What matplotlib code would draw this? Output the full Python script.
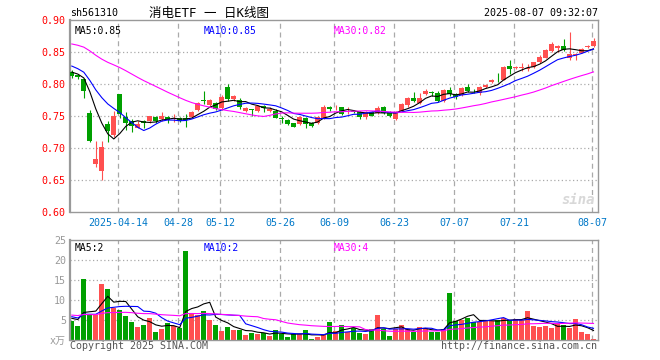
import numpy as np
import matplotlib
matplotlib.use('Agg')
from matplotlib import pyplot as plt

# daily candles, 2025-04-01 .. 2025-08-07 (88 trading days)
opens = [0.819, 0.815, 0.808, 0.755, 0.676, 0.664, 0.738, 0.721, 0.785, 0.749,
         0.743, 0.732, 0.743, 0.742, 0.749, 0.745, 0.749, 0.745, 0.748, 0.748,
         0.749, 0.760, 0.775, 0.768, 0.771, 0.763, 0.796, 0.777, 0.775, 0.759,
         0.761, 0.759, 0.766, 0.759, 0.758, 0.747, 0.744, 0.739, 0.7375, 0.747,
         0.739, 0.7395, 0.746, 0.765, 0.764, 0.764, 0.758, 0.758, 0.757, 0.7485,
         0.756, 0.755, 0.765, 0.757, 0.746, 0.758, 0.767, 0.779, 0.770, 0.785,
         0.788, 0.787, 0.7735, 0.791, 0.785, 0.783, 0.795, 0.790, 0.786, 0.795,
         0.803, 0.807, 0.807, 0.8286, 0.825, 0.826, 0.8245, 0.8276, 0.8354, 0.8417,
         0.852, 0.856, 0.860, 0.8406, 0.846, 0.8484, 0.859, 0.860]
highs = [0.822, 0.816, 0.810, 0.760, 0.711, 0.711, 0.743, 0.758, 0.785, 0.757,
         0.746, 0.743, 0.744, 0.750, 0.750, 0.757, 0.751, 0.754, 0.749, 0.753,
         0.758, 0.773, 0.789, 0.777, 0.773, 0.783, 0.801, 0.783, 0.778, 0.765,
         0.762, 0.768, 0.767, 0.765, 0.762, 0.750, 0.745, 0.740, 0.751, 0.749,
         0.741, 0.750, 0.768, 0.766, 0.768, 0.765, 0.764, 0.760, 0.759, 0.759,
         0.758, 0.766, 0.766, 0.758, 0.758, 0.770, 0.780, 0.7885, 0.786, 0.793,
         0.790, 0.789, 0.793, 0.796, 0.786, 0.796, 0.800, 0.793, 0.798, 0.801,
         0.809, 0.817, 0.828, 0.838, 0.829, 0.833, 0.831, 0.835, 0.846, 0.855,
         0.866, 0.862, 0.871, 0.882, 0.849, 0.856, 0.862, 0.872]
lows = [0.810, 0.809, 0.778, 0.710, 0.671, 0.650, 0.710, 0.718, 0.747, 0.729,
        0.726, 0.731, 0.732, 0.739, 0.739, 0.743, 0.740, 0.741, 0.741, 0.734,
        0.748, 0.759, 0.769, 0.766, 0.760, 0.760, 0.774, 0.774, 0.762, 0.757,
        0.751, 0.756, 0.756, 0.757, 0.747, 0.740, 0.737, 0.733, 0.736, 0.731,
        0.734, 0.738, 0.745, 0.759, 0.760, 0.752, 0.753, 0.755, 0.745, 0.745,
        0.750, 0.754, 0.754, 0.749, 0.744, 0.757, 0.765, 0.773, 0.769, 0.784,
        0.781, 0.773, 0.772, 0.781, 0.777, 0.782, 0.788, 0.786, 0.784, 0.794,
        0.802, 0.804, 0.806, 0.816, 0.824, 0.821, 0.8215, 0.825, 0.834, 0.841,
        0.851, 0.851, 0.852, 0.838, 0.838, 0.8484, 0.8565, 0.859]
closes = [0.813, 0.811, 0.790, 0.711, 0.683, 0.702, 0.727, 0.750, 0.753, 0.739,
          0.735, 0.738, 0.740, 0.750, 0.743, 0.750, 0.744, 0.748, 0.743, 0.744,
          0.757, 0.771, 0.774, 0.775, 0.762, 0.780, 0.777, 0.781, 0.764, 0.763,
          0.760, 0.766, 0.763, 0.762, 0.748, 0.746, 0.738, 0.734, 0.7495, 0.738,
          0.7355, 0.7485, 0.765, 0.761, 0.765, 0.753, 0.759, 0.757, 0.7495, 0.757,
          0.751, 0.7635, 0.755, 0.751, 0.756, 0.7685, 0.779, 0.774, 0.779, 0.790,
          0.787, 0.7745, 0.791, 0.785, 0.780, 0.794, 0.790, 0.789, 0.795, 0.799,
          0.807, 0.806, 0.8266, 0.824, 0.8276, 0.827, 0.825, 0.8344, 0.843, 0.8536,
          0.863, 0.860, 0.8536, 0.847, 0.847, 0.8547, 0.860, 0.868]
# volume in units of 10k lots
volumes = [4.8, 3.6, 15.3, 6.5, 6.3, 14.1, 12.8, 8.0, 7.5, 6.1,
           4.5, 3.3, 3.8, 5.6, 2.1, 2.8, 4.3, 3.5, 3.1, 22.3,
           6.5, 6.3, 7.3, 5.1, 3.8, 2.3, 3.3, 2.6, 2.7, 1.3,
           1.9, 1.6, 1.9, 1.1, 2.6, 1.5, 0.9, 1.5, 1.5, 2.6,
           0.3, 0.9, 1.25, 4.6, 2.3, 3.8, 2.2, 3.2, 1.9, 1.6,
           2.75, 6.3, 2.75, 1.2, 2.75, 3.8, 2.75, 2.0, 3.3, 3.0,
           2.2, 2.0, 2.75, 11.9, 4.8, 5.1, 5.5, 4.7, 4.7, 4.8,
           4.8, 5.0, 5.5, 5.1, 5.3, 5.0, 7.3, 3.7, 3.3, 3.5,
           3.0, 4.0, 3.8, 3.0, 5.3, 2.1, 1.6, 0.3]

# sessions before the window, only used to seed the moving averages
prior_close = [0.872, 0.878, 0.885, 0.890, 0.884, 0.876, 0.870, 0.878, 0.886, 0.893,
               0.896, 0.890, 0.884, 0.880, 0.886, 0.882, 0.876, 0.872, 0.866, 0.862,
               0.852, 0.845, 0.838, 0.832, 0.823, 0.826, 0.820, 0.818, 0.818]
prior_volume = [7.2, 6.8, 8.1, 6.0, 5.4, 6.6, 7.5, 6.2, 5.8, 6.9,
                7.8, 6.4, 5.6, 6.1, 6.8, 7.0, 5.9, 6.3, 5.7, 5.9,
                6.8, 5.9, 6.6, 6.4, 5.8, 5.2, 6.4, 5.6, 5.5]

tick_idx = [8, 18, 25, 35, 44, 54, 64, 74, 87]
tick_labels = ['2025-04-14', '04-28', '05-12', '05-26', '06-09', '06-23', '07-07', '07-21', '08-07']

price_ticks = [0.60, 0.65, 0.70, 0.75, 0.80, 0.85, 0.90]
vol_ticks = [5, 10, 15, 20, 25]

RED = '#ff5050'
GREEN = '#00a000'
MA_COLORS = ['black', '#0000ff', '#ff00ff']
GRID = '#aaaaaa'
FRAME = '#999999'
MONO = ['DejaVu Sans Mono', 'Noto Sans CJK SC']

plt.rcParams['font.family'] = MONO

n = len(closes)
x = np.arange(n)
o = np.array(opens)
c = np.array(closes)
h = np.array(highs)
l = np.array(lows)
v = np.array(volumes)
up = c >= o
colors = np.where(up, RED, GREEN)


def moving_average(prior, values, window):
    full = np.array(prior + values)
    return np.convolve(full, np.ones(window) / window, mode='valid')[-len(values):]


fig = plt.figure(figsize=(6.6, 3.6), dpi=100)
ax = fig.add_axes([70 / 660, 1 - 212.3 / 360, 528 / 660, 192 / 360])
axv = fig.add_axes([70 / 660, 1 - 340.3 / 360, 528 / 660, 100 / 360])

xlim = (-0.3, n - 1 + 0.75)
grid_x = [i - 0.25 for i in tick_idx]

for a in (ax, axv):
    a.set_xlim(*xlim)
    for s in a.spines.values():
        s.set_color(FRAME)
        s.set_linewidth(1.0)
    a.spines['left'].set_linewidth(1.6)
    for gx in grid_x:
        a.axvline(gx, color=GRID, lw=0.9, ls=(0, (4, 3)), zorder=0)
    a.tick_params(length=0)

# price panel
for yv in price_ticks[1:-1]:
    ax.axhline(yv, color=GRID, lw=0.9, ls=(0, (1, 2)), zorder=0)
ax.vlines(x, l, h, colors=colors, lw=0.8, zorder=2)
body = np.maximum(np.abs(c - o), 0.0008)
ax.bar(x, body, bottom=np.minimum(o, c), width=0.78, color=colors, linewidth=0, zorder=3)
for w, col in zip([5, 10, 30], MA_COLORS):
    ax.plot(x, moving_average(prior_close, closes, w), color=col, lw=0.8, zorder=4)
ax.set_ylim(0.60, 0.90)
ax.set_yticks(price_ticks)
ax.set_yticklabels([f'{t:.2f}' for t in price_ticks], color='red', fontsize=7.2)
ax.tick_params(axis='y', pad=3)
ax.set_xticks(grid_x)
ax.set_xticklabels(tick_labels, color='#0078c8', fontsize=7.2)
ax.tick_params(axis='x', pad=4)

ax.text(0.008, 0.97, 'MA5:0.85', transform=ax.transAxes, color='black', fontsize=7, va='top')
ax.text(0.254, 0.97, 'MA10:0.85', transform=ax.transAxes, color='#0000ff', fontsize=7, va='top')
ax.text(0.5, 0.97, 'MA30:0.82', transform=ax.transAxes, color='#ff00ff', fontsize=7, va='top')
ax.text(0.995, 0.03, 'sina', transform=ax.transAxes, color='#d8d8d8', fontsize=10,
        fontweight='bold', style='italic', ha='right', va='bottom', zorder=1)

# volume panel
for yv in vol_ticks[:-1]:
    axv.axhline(yv, color=GRID, lw=0.9, ls=(0, (1, 2)), zorder=0)
axv.bar(x, v, width=0.82, color=colors, linewidth=0, zorder=2)
for w, col in zip([5, 10, 30], MA_COLORS):
    axv.plot(x, moving_average(prior_volume, volumes, w), color=col, lw=0.8, zorder=4)
axv.set_ylim(0, 25)
axv.set_yticks([0] + vol_ticks)
axv.set_yticklabels(['x万'] + [str(t) for t in vol_ticks], color='#999999', fontsize=7.2)
axv.tick_params(axis='y', pad=3)
axv.set_xticks([])

axv.text(0.008, 0.97, 'MA5:2', transform=axv.transAxes, color='black', fontsize=7, va='top')
axv.text(0.254, 0.97, 'MA10:2', transform=axv.transAxes, color='#0000ff', fontsize=7, va='top')
axv.text(0.5, 0.97, 'MA30:4', transform=axv.transAxes, color='#ff00ff', fontsize=7, va='top')

# header and footer
fig.text(70 / 660, 1 - 13 / 360, 'sh561310', fontsize=7.2, va='center', ha='left')
fig.text(209 / 660, 1 - 13 / 360, '消电ETF 一 日K线图', fontsize=9, va='center', ha='center')
fig.text(597.5 / 660, 1 - 13 / 360, '2025-08-07 09:32:07', fontsize=7.2, va='center', ha='right')
fig.text(70 / 660, 1 - 346 / 360, 'Copyright 2025 SINA.COM', fontsize=7.2, color='#555555',
         va='center', ha='left')
fig.text(597.5 / 660, 1 - 346 / 360, 'http://finance.sina.com.cn', fontsize=7.2, color='#555555',
         va='center', ha='right')

fig.savefig('out.png', dpi=100)
